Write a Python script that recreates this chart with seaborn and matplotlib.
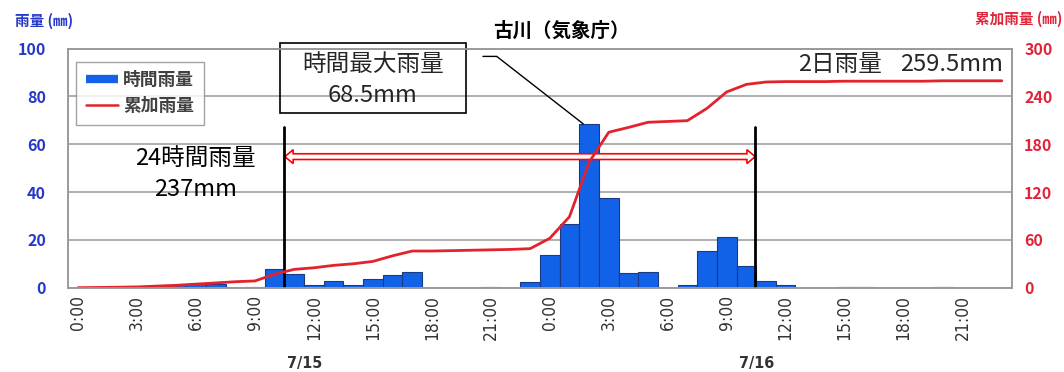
import matplotlib
matplotlib.use("Agg")
import matplotlib.pyplot as plt
import seaborn as sns
import pandas as pd
import numpy as np
from matplotlib.patches import Polygon, Rectangle
from matplotlib.lines import Line2D

# données horaires (7/15 0:00 -> 7/16 23:00)
hours = list(range(48))
rain = [0, 0, 0, 0, 0, 1.0, 1.5, 1.5, 0, 0.5,
        8.0, 5.7, 1.3, 2.8, 1.3, 3.5, 5.5, 6.5, 0, 0,
        0, 0.5, 0, 2.5, 13.5, 26.5, 68.5, 37.5, 6.0, 6.5,
        0, 1.0, 15.5, 21.0, 9.0, 3.0, 1.0, 0, 0, 0.5,
        0.5, 0, 0, 0, 0.5, 0, 0, 0]
cum = [0, 0.3, 0.6, 1, 2, 3, 4.5, 6, 7.5, 8.5,
       17, 23, 25, 28, 30, 33, 40, 46, 46, 46.5,
       47, 47.5, 48, 49, 62, 89, 157.5, 195, 201, 207.5,
       208.5, 209.5, 225, 245.5, 255, 258, 258.5, 258.5, 258.5, 259,
       259, 259, 259, 259, 259.5, 259.5, 259.5, 259.5]
tick_pos = list(range(0, 48, 3))
tick_labels = [f"{h % 24}:00" for h in tick_pos]
date_pos = [11.5, 34.5]
date_labels = ["7/15", "7/16"]
period = [10.47, 34.45]   # fenêtre 24h

BAR = "#1262e8"
EDGE = "#1b3a86"
LINE = "#e3232c"
BLUE_TXT = "#2638c8"
RED_TXT = "#e0243a"
GRID = "#a8a8a8"

sns.set_theme(style="white")
plt.rcParams['font.family'] = ['Noto Sans CJK JP', 'DejaVu Sans']

df = pd.DataFrame({"hour": hours, "rain": rain, "cum": cum})

fig = plt.figure(figsize=(10.64, 3.72), dpi=100)
ax = fig.add_axes([0.0642, 0.2266, 0.8866, 0.643])

sns.barplot(data=df, x="hour", y="rain", ax=ax, color=BAR, edgecolor=EDGE,
            linewidth=0.8, width=1.0, saturation=1, zorder=2)
ax.set_ylim(0, 100)
ax.set_yticks(range(0, 101, 20))
ax.yaxis.grid(True, color=GRID, lw=1.3)
ax.set_axisbelow(True)
ax.set_xlabel("")
ax.set_ylabel("")

ax2 = ax.twinx()
sns.lineplot(data=df, x="hour", y="cum", ax=ax2, color=LINE, lw=2)
ax2.set_ylim(0, 300)
ax2.set_yticks(range(0, 301, 60))
ax2.set_ylabel("")
ax.set_xlim(-0.5, 47.5)

ax.set_xticks(tick_pos)
ax.set_xticklabels(tick_labels, rotation=90, fontsize=12.5, color="#333333",
                   fontstretch="condensed", family="DejaVu Sans")
ax.tick_params(axis="x", length=0, pad=5)
ax.tick_params(axis="y", length=0, pad=16, labelsize=11.5, labelcolor=BLUE_TXT)
ax2.tick_params(axis="y", length=0, pad=9, labelsize=11.5, labelcolor=RED_TXT)
for t in ax.get_yticklabels() + ax2.get_yticklabels():
    t.set_fontweight("bold")

for a in (ax, ax2):
    for s in a.spines.values():
        s.set_color("#9a9a9a")
        s.set_linewidth(1.2)

# dates
for p, lab in zip(date_pos, date_labels):
    ax.text(p, -0.315, lab, transform=ax.get_xaxis_transform(), ha="center", va="center",
            fontsize=11.5, fontweight="bold", color="#333333", family="DejaVu Sans",
            fontstretch="condensed")

# titres des axes
fig.text(15 / 1064, 1 - 21 / 372, "雨量 (㎜)", color=BLUE_TXT, fontsize=10.5,
         fontweight="bold", ha="left", va="center")
fig.text(1062 / 1064, 1 - 19 / 372, "累加雨量 (㎜)", color=RED_TXT, fontsize=10.5,
         fontweight="bold", ha="right", va="center")
fig.text(561 / 1064, 1 - 31 / 372, "古川（気象庁）", fontsize=14, fontweight="bold",
         ha="center", va="center", color="black")

# légende
handles = [Line2D([0], [0], color=BAR, lw=6, solid_capstyle="butt"),
           Line2D([0], [0], color=LINE, lw=1.8)]
leg = ax2.legend(handles, ["時間雨量", "累加雨量"], loc="upper left",
                 bbox_to_anchor=(0.008, 0.945), borderaxespad=0, frameon=True,
                 fancybox=False, edgecolor="#8c8c8c", handlelength=1.8,
                 handletextpad=0.3, labelspacing=0.45, borderpad=0.55,
                 prop={"size": 12.8, "weight": "bold"})
leg.get_frame().set_linewidth(1.0)
for t in leg.get_texts():
    t.set_color("#404040")

# fenêtre 24h : traits verticaux + double flèche
for p in period:
    ax.plot([p, p], [0, 67], color="black", lw=2, zorder=6)
ay, hs, hh, hl = 54.8, 1.2, 2.9, 0.42
x0, x1 = period[0] + 0.05, period[1]
pts = [(x0, ay), (x0 + hl, ay + hh), (x0 + hl, ay + hs), (x1 - hl, ay + hs),
       (x1 - hl, ay + hh), (x1, ay), (x1 - hl, ay - hh), (x1 - hl, ay - hs),
       (x0 + hl, ay - hs), (x0 + hl, ay - hh)]
ax.add_patch(Polygon(pts, closed=True, fc="white", ec="red", lw=1.2, zorder=5))

ax.text(5.97, 54, "24時間雨量", ha="center", va="center", fontsize=17, color="black", zorder=7)
ax.text(5.97, 41, "237mm", ha="center", va="center", fontsize=17, color="black", zorder=7)

# encadré pluie horaire max
peak = int(np.argmax(rain))
ax.add_patch(Rectangle((10.27, 73.1), 9.47, 29.4, fill=False, ec="black", lw=1.2,
                       clip_on=False, zorder=7))
ax.text(15.0, 93.4, "時間最大雨量", ha="center", va="center", fontsize=17, zorder=7)
ax.text(15.0, 80.2, f"{rain[peak]}mm", ha="center", va="center", fontsize=17, zorder=7)
ax.plot([20.6, 21.3, peak - 0.3], [96.7, 96.7, rain[peak]], color="black", lw=1, zorder=7)

# total 2 jours
ax.text(40.91, 93.4, "2日雨量", ha="right", va="center", fontsize=17, zorder=7)
ax.text(47.08, 93.4, f"{cum[-1]}mm", ha="right", va="center", fontsize=17, zorder=7)

fig.savefig("out.png", dpi=100)
